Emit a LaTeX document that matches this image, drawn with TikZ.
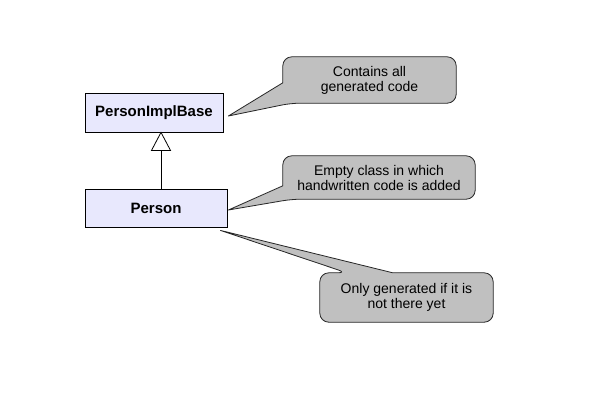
\documentclass[tikz,border=0pt]{standalone}
\usepackage{fontspec}
\setmainfont{Liberation Sans}
\usetikzlibrary{calc}
\definecolor{boxfill}{RGB}{232,232,253}
\definecolor{callgrey}{RGB}{192,192,192}
\tikzset{
  classbox/.style={draw=black, line width=0.8pt, fill=boxfill, inner sep=0pt,
    font=\fontsize{15}{17}\selectfont\bfseries},
  calltext/.style={inner sep=0pt, align=center, font=\fontsize{14}{15}\selectfont},
  callshape/.style={draw=black!85, line width=0.8pt, fill=callgrey, line join=round},
  inherit/.style={draw=black, line width=0.8pt},
}
\begin{document}
\begin{tikzpicture}[x=1pt,y=-1pt]
\fill[white] (0,0) rectangle (590,416);
\useasboundingbox (0,0) rectangle (590,416);

% class boxes
\node[classbox, minimum width=138pt, minimum height=39pt] (pib) at (154,112.5) {PersonImplBase};
\node[classbox, minimum width=142pt, minimum height=38pt] (person) at (156,208) {Person};

% inheritance
\coordinate (tri) at ($(pib.south)+(7,18)$);
\draw[inherit] (person.north -| tri) -- (tri);
\draw[inherit, fill=white, line join=miter] ($(tri)+(-9.5,0)$) -- ($(pib.south)+(7,0)$) -- ($(tri)+(9.5,0)$) -- cycle;

% callout 1
\node[calltext, minimum width=173pt, minimum height=46pt] (c1) at (369.5,80) {};
\coordinate (t1) at ($(pib.east)+(5,3.5)$);
\draw[callshape] ($(c1.north west)+(0,26)$) [rounded corners=9pt] -- (c1.north west) -- (c1.north east) -- (c1.south east) -- ($(c1.south west)+(8,0)$) [sharp corners] -- (t1) -- cycle;
\node[calltext] at (c1) {Contains all\\generated code};

% callout 2
\node[calltext, minimum width=192pt, minimum height=43pt] (c2) at (379,177.5) {};
\coordinate (t2) at ($(person.east)+(1,2)$);
\draw[callshape] ($(c2.north west)+(0,30)$) [rounded corners=9pt] -- (c2.north west) -- (c2.north east) -- (c2.south east) -- ($(c2.south west)+(9,0)$) [sharp corners] -- (t2) -- cycle;
\node[calltext] at (c2) {Empty class in which\\handwritten code is added};

% callout 3
\node[calltext, minimum width=173pt, minimum height=49pt] (c3) at (406.5,297.5) {};
\coordinate (t3) at ($(person.south east)+(-7,3)$);
\draw[callshape] ($(c3.north west)+(27,0)$) [sharp corners] -- (t3) -- ($(c3.north west)+(73,0)$) [rounded corners=9pt] -- (c3.north east) -- (c3.south east) -- (c3.south west) -- (c3.north west) -- cycle;
\node[calltext] at (c3) {Only generated if it is\\not there yet};
\end{tikzpicture}
\end{document}
